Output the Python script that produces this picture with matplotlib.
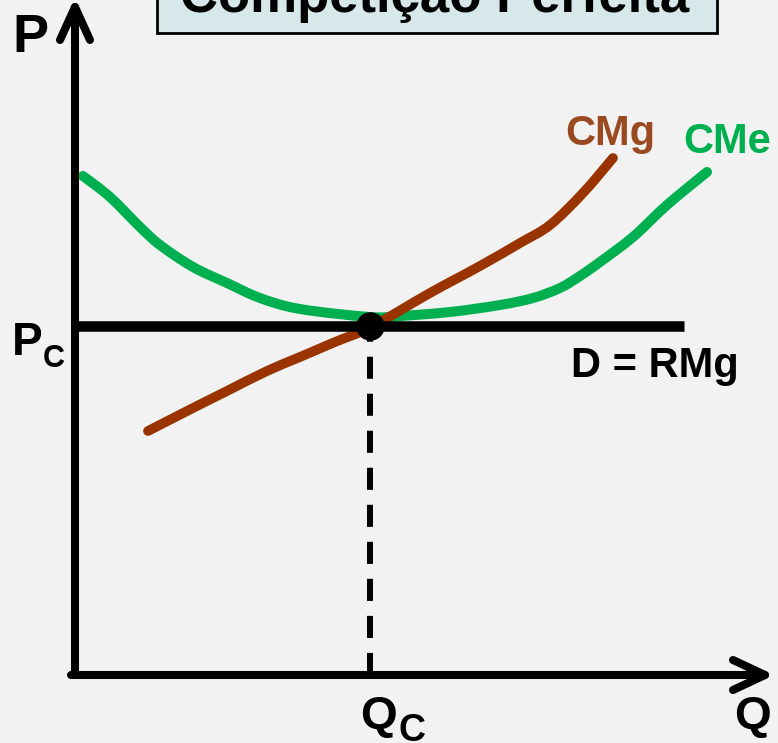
import numpy as np
import matplotlib
matplotlib.use("Agg")
import matplotlib.pyplot as plt
from matplotlib.patches import Rectangle, PathPatch
from matplotlib.path import Path

plt.rcParams["font.family"] = ["Liberation Sans", "DejaVu Sans"]
plt.rcParams["font.weight"] = "bold"

# average cost curve (CMe): U-shaped, minimum at the competitive price
cme_q = [0.08, 0.35, 0.65, 0.85, 1.18, 1.52, 1.85, 2.25, 2.95, 3.25,
         3.75, 4.25, 4.58, 4.85, 5.05, 5.25, 5.58, 5.92, 6.32]
cme_p = [4.99, 4.78, 4.48, 4.30, 4.08, 3.92, 3.77, 3.66, 3.58, 3.59,
         3.63, 3.70, 3.77, 3.87, 3.99, 4.13, 4.38, 4.70, 5.03]

# marginal cost curve (CMg): rising, crosses CMe at its minimum
cmg_q = [0.73, 1.18, 1.52, 1.92, 2.25, 2.60, 2.96, 3.55, 4.05, 4.45,
         4.75, 5.08, 5.38]
cmg_p = [2.44, 2.67, 2.84, 3.04, 3.18, 3.33, 3.48, 3.82, 4.09, 4.32,
         4.50, 4.82, 5.17]

# competitive equilibrium
p_c = 3.49
q_c = 2.95
d_end = 6.09          # demand line D = RMg is horizontal at p_c
q_axis_end = 6.90
p_axis_end = 6.68

GREEN = "#00b050"
BROWN = "#993300"
BROWN_TXT = "#9a4a20"
BG = "#f2f2f2"


def smooth_path(xs, ys):
    """Cubic Bezier path passing through every point (Catmull-Rom tangents)."""
    pts = np.column_stack([xs, ys]).astype(float)
    verts = [pts[0]]
    codes = [Path.MOVETO]
    n = len(pts)
    for i in range(n - 1):
        p0 = pts[max(i - 1, 0)]
        p1 = pts[i]
        p2 = pts[i + 1]
        p3 = pts[min(i + 2, n - 1)]
        c1 = p1 + (p2 - p0) / 6.0
        c2 = p2 - (p3 - p1) / 6.0
        verts += [c1, c2, p2]
        codes += [Path.CURVE4] * 3
    return Path(verts, codes)


def draw_curve(ax, xs, ys, color, lw, z):
    patch = PathPatch(smooth_path(xs, ys), facecolor="none", edgecolor=color,
                      lw=lw, capstyle="round", joinstyle="round", zorder=z)
    ax.add_patch(patch)


fig = plt.figure(figsize=(7.78, 7.43), dpi=100, facecolor=BG)
ax = fig.add_axes([0, 0, 1, 1])
ax.set_facecolor(BG)
ax.set_xlim(-0.75, 7.03)
ax.set_ylim(-0.68, 6.75)
ax.axis("off")

# axes with open arrow heads
ax_kw = dict(color="black", lw=5.8, solid_capstyle="round",
             solid_joinstyle="round", zorder=5)
ax.plot([0, 0], [0, p_axis_end], **ax_kw)
ax.plot([-0.04, q_axis_end], [0, 0], **ax_kw)
ax.plot([-0.15, 0, 0.15], [p_axis_end - 0.33, p_axis_end, p_axis_end - 0.33], **ax_kw)
ax.plot([q_axis_end - 0.32, q_axis_end, q_axis_end - 0.32], [0.15, 0, -0.15], **ax_kw)

# cost curves
draw_curve(ax, cme_q, cme_p, GREEN, 7.2, 2)
draw_curve(ax, cmg_q, cmg_p, BROWN, 7.0, 3)

# demand = marginal revenue
ax.plot([0, d_end], [p_c, p_c], color="black", lw=7.6,
        solid_capstyle="butt", zorder=4)

# equilibrium point and its projection on Q
ax.plot([q_c, q_c], [0, p_c], color="black", lw=4.3,
        ls=(0, (3.7, 2.5)), dash_capstyle="butt", zorder=1)
ax.plot([q_c], [p_c], "o", color="black", ms=19.5, zorder=6)

# title box, cut by the top edge
ax.add_patch(Rectangle((0.82, 6.42), 5.60, 0.6, facecolor="#d6e8ea",
                       edgecolor="black", lw=2.0, zorder=1, clip_on=False))
ax.text(3.60, 6.63, "Competição Perfeita", fontsize=38, ha="center",
        va="baseline", color="black", zorder=2)

# axis labels
ax.text(-0.63, 6.23, "P", fontsize=39, ha="left", va="baseline")
ax.text(6.59, -0.54, "Q", fontsize=34, ha="left", va="baseline")
ax.text(-0.63, 3.20, "P", fontsize=33, ha="left", va="baseline")
ax.text(-0.32, 3.08, "C", fontsize=22, ha="left", va="baseline")
ax.text(2.85, -0.54, "Q", fontsize=34, ha="left", va="baseline")
ax.text(3.24, -0.66, "C", fontsize=27, ha="left", va="baseline")

# curve labels
ax.text(4.90, 5.30, "CMg", fontsize=30, color=BROWN_TXT, ha="left", va="baseline")
ax.text(6.08, 5.22, "CMe", fontsize=30, color=GREEN, ha="left", va="baseline")
ax.text(4.96, 2.98, "D = RMg", fontsize=30, color="black", ha="left", va="baseline")

fig.savefig("out.png", dpi=100, facecolor=BG)
